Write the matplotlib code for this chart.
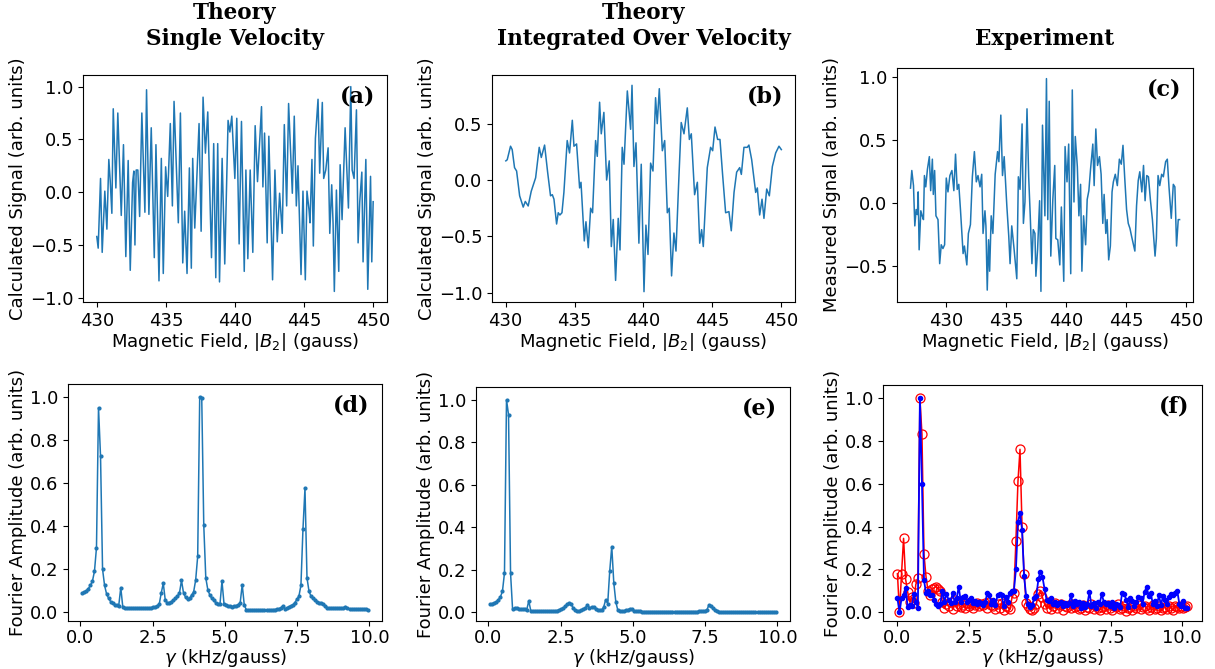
import numpy as np
import matplotlib
matplotlib.use("Agg")
import matplotlib.pyplot as plt

# ---- (a) theory, single velocity: field (gauss) vs signal
field_a = [430.00, 430.10, 430.27, 430.39, 430.58, 430.73, 430.87, 430.97, 431.09, 431.19,
           431.38, 431.52, 431.77, 431.93, 432.10, 432.27, 432.42, 432.59, 432.68, 432.76,
           432.85, 432.97, 433.10, 433.26, 433.48, 433.60, 433.77, 433.94, 434.16, 434.28,
           434.50, 434.67, 434.81, 434.98, 435.13, 435.32, 435.47, 435.59, 435.90, 436.05,
           436.22, 436.36, 436.53, 436.70, 436.84, 436.94, 437.09, 437.40, 437.55, 437.69,
           437.86, 438.03, 438.30, 438.46, 438.61, 438.75, 438.88, 439.07, 439.26, 439.50,
           439.63, 439.77, 439.99, 440.13, 440.30, 440.47, 440.67, 440.79, 440.93, 441.10,
           441.29, 441.46, 441.63, 441.92, 442.02, 442.14, 442.33, 442.45, 442.72, 442.89,
           443.06, 443.23, 443.42, 443.57, 443.74, 443.88, 444.15, 444.29, 444.44, 444.56,
           444.78, 444.92, 445.09, 445.21, 445.36, 445.43, 445.57, 445.67, 445.82, 446.01,
           446.13, 446.32, 446.42, 446.57, 446.74, 446.86, 447.00, 447.10, 447.19, 447.34,
           447.51, 447.61, 447.75, 447.97, 448.21, 448.38, 448.48, 448.62, 448.79, 448.91,
           449.03, 449.18, 449.27, 449.47, 449.61, 449.81, 449.90, 450.00]
signal_a = [-0.42, -0.53, 0.13, -0.57, 0.01, -0.35, 0.31, 0.11, -0.20, 0.79,
            0.04, 0.75, -0.22, 0.45, -0.61, 0.30, -0.74, 0.09, 0.20, -0.50,
            0.21, 0.21, -0.23, 0.75, -0.19, 0.97, -0.21, 0.61, -0.62, 0.45,
            -0.84, 0.32, -0.77, 0.24, -0.04, 0.65, -0.13, 0.86, -0.29, 0.75,
            -0.67, -0.18, -0.77, 0.23, -0.72, 0.32, -0.34, 0.65, -0.37, 0.90,
            0.37, 0.76, -0.62, 0.46, -0.81, 0.46, -0.85, 0.32, -0.68, 0.68,
            0.57, 0.72, 0.13, 0.70, -0.49, 0.67, -0.75, 0.21, -0.63, 0.21,
            -0.57, 0.63, 0.10, 0.81, 0.05, 0.56, -0.48, 0.53, -0.83, 0.21,
            -0.47, -0.01, -0.39, 0.64, -0.13, 0.84, -0.01, 0.72, -0.13, 0.25,
            -0.78, 0.01, -0.83, 0.01, -0.17, -0.29, 0.31, -0.51, 0.51, 0.88,
            0.18, 0.85, 0.13, 0.21, 0.42, -0.39, 0.07, -0.30, -0.94, 0.02,
            -0.75, 0.26, -0.26, 0.61, -0.15, 1.00, 0.21, 0.13, 0.78, -0.48,
            -0.09, 0.19, -0.66, 0.31, -0.92, 0.15, -0.66, -0.09]

# ---- (b) theory, integrated over velocity
field_b = [430.02, 430.12, 430.36, 430.48, 430.65, 430.80, 431.02, 431.28, 431.43, 431.64,
           431.86, 432.18, 432.44, 432.59, 432.83, 433.05, 433.26, 433.39, 433.51, 433.70,
           433.82, 433.94, 434.09, 434.23, 434.47, 434.64, 434.84, 434.96, 435.15, 435.37,
           435.47, 435.71, 435.83, 436.00, 436.17, 436.31, 436.53, 436.65, 436.82, 436.94,
           437.13, 437.33, 437.52, 437.67, 437.81, 437.98, 438.17, 438.30, 438.46, 438.59,
           438.83, 439.07, 439.17, 439.31, 439.46, 439.67, 439.84, 440.04, 440.18, 440.33,
           440.52, 440.69, 440.88, 441.00, 441.15, 441.37, 441.54, 441.73, 441.87, 442.04,
           442.21, 442.36, 442.55, 442.74, 442.94, 443.18, 443.33, 443.47, 443.71, 443.91,
           444.08, 444.22, 444.34, 444.63, 444.87, 445.02, 445.19, 445.38, 445.55, 445.74,
           445.96, 446.20, 446.37, 446.57, 446.76, 446.98, 447.10, 447.29, 447.53, 447.65,
           447.85, 448.14, 448.26, 448.43, 448.60, 448.74, 448.94, 449.13, 449.35, 449.59,
           449.83, 450.00]
signal_b = [0.17, 0.18, 0.30, 0.27, 0.11, 0.08, -0.14, -0.24, -0.19, -0.23,
            -0.10, 0.02, 0.29, 0.20, 0.31, 0.07, -0.14, -0.13, -0.17, -0.39,
            -0.29, -0.31, -0.29, -0.11, 0.35, 0.24, 0.53, 0.30, 0.32, -0.07,
            -0.02, -0.54, -0.37, -0.60, -0.25, -0.29, 0.35, 0.21, 0.69, 0.41,
            0.60, 0.00, 0.17, -0.59, -0.35, -0.89, -0.34, -0.62, 0.29, 0.14,
            0.79, 0.45, 0.84, 0.12, 0.33, -0.56, 0.14, -0.99, -0.40, -0.66,
            0.15, 0.08, 0.73, 0.50, 0.81, 0.26, 0.35, -0.29, -0.25, -0.85,
            -0.47, -0.63, -0.04, 0.51, 0.41, 0.64, 0.36, 0.41, -0.13, -0.02,
            -0.56, -0.44, -0.59, 0.11, 0.29, 0.26, 0.47, 0.36, 0.36, 0.05,
            -0.29, -0.28, -0.45, -0.11, 0.07, 0.11, 0.05, 0.29, 0.29, 0.31,
            0.18, -0.11, -0.07, -0.31, -0.17, -0.34, -0.08, -0.14, 0.12, 0.24,
            0.30, 0.27]

# ---- (c) experiment
field_c = [427.05, 427.16, 427.30, 427.41, 427.52, 427.63, 427.69, 427.77, 427.91, 428.02,
           428.13, 428.21, 428.32, 428.46, 428.62, 428.73, 428.87, 428.95, 429.06, 429.17,
           429.34, 429.48, 429.61, 429.75, 429.89, 430.03, 430.17, 430.33, 430.50, 430.66,
           430.80, 430.94, 431.07, 431.21, 431.43, 431.54, 431.74, 431.87, 432.04, 432.20,
           432.37, 432.53, 432.67, 432.84, 432.98, 433.09, 433.25, 433.33, 433.44, 433.55,
           433.64, 433.77, 433.91, 434.10, 434.30, 434.41, 434.57, 434.71, 434.85, 435.07,
           435.23, 435.34, 435.48, 435.67, 435.90, 436.03, 436.17, 436.34, 436.45, 436.58,
           436.75, 436.89, 437.02, 437.16, 437.27, 437.41, 437.49, 437.63, 437.80, 437.91,
           438.04, 438.24, 438.37, 438.48, 438.60, 438.73, 438.90, 439.06, 439.15, 439.31,
           439.48, 439.61, 439.81, 439.92, 440.08, 440.22, 440.39, 440.52, 440.66, 440.77,
           440.94, 441.07, 441.21, 441.32, 441.46, 441.63, 441.76, 441.90, 442.04, 442.23,
           442.34, 442.48, 442.62, 442.78, 442.92, 443.06, 443.17, 443.31, 443.42, 443.55,
           443.69, 443.83, 443.94, 444.10, 444.27, 444.44, 444.60, 444.74, 444.88, 445.04,
           445.18, 445.32, 445.45, 445.59, 445.73, 445.87, 446.01, 446.14, 446.31, 446.45,
           446.58, 446.72, 446.86, 447.02, 447.19, 447.41, 447.52, 447.66, 447.80, 447.96,
           448.10, 448.29, 448.43, 448.57, 448.76, 448.93, 449.06, 449.20, 449.34, 449.45]
signal_c = [0.12, 0.26, 0.14, -0.18, -0.05, -0.09, 0.09, -0.37, -0.06, -0.10,
            -0.13, 0.22, 0.13, 0.27, 0.37, 0.10, 0.35, 0.07, 0.26, -0.10,
            -0.13, -0.48, -0.33, -0.36, -0.33, 0.20, 0.09, 0.22, 0.26, 0.10,
            0.39, 0.11, 0.15, -0.05, -0.40, -0.34, -0.49, -0.24, -0.17, 0.21,
            0.41, 0.17, 0.22, 0.13, 0.23, -0.24, -0.06, -0.18, -0.69, -0.29,
            -0.54, -0.10, -0.24, 0.23, 0.41, 0.33, 0.70, 0.22, 0.37, -0.02,
            -0.26, -0.48, -0.18, -0.36, -0.60, 0.21, 0.11, 0.63, -0.16, 0.01,
            0.75, 0.21, -0.10, -0.48, -0.21, -0.24, -0.58, -0.37, 0.02, -0.70,
            0.62, -0.10, 0.99, -0.13, 0.81, -0.42, 0.03, 0.30, -0.28, -0.29,
            -0.49, -0.03, -0.62, 0.45, 0.17, 0.47, -0.56, 0.90, 0.01, 0.53,
            0.29, -0.10, 0.15, -0.54, -0.10, -0.33, 0.03, 0.10, 0.27, 0.47,
            0.14, 0.59, 0.30, 0.37, 0.23, -0.16, 0.07, -0.24, -0.13, -0.45,
            -0.34, 0.09, 0.17, 0.23, 0.14, 0.35, 0.31, 0.46, 0.21, -0.05,
            -0.16, -0.20, -0.26, -0.32, -0.38, -0.02, 0.18, 0.25, 0.09, 0.30,
            0.02, 0.22, 0.21, 0.03, -0.13, -0.42, -0.28, 0.22, 0.14, 0.23,
            0.21, 0.33, 0.35, 0.13, -0.12, 0.15, 0.13, -0.34, -0.13, -0.13]

# ---- (d), (e) Fourier spectra of theory, gamma in kHz/gauss (step 0.07)
gamma_th = np.arange(1, 143) * 0.07
fourier_d = [0.09, 0.095, 0.10, 0.11, 0.125, 0.145, 0.19, 0.30, 0.95, 0.725,
             0.20, 0.125, 0.085, 0.065, 0.05, 0.042, 0.036, 0.033, 0.031, 0.115,
             0.025, 0.021, 0.02, 0.019, 0.018, 0.018, 0.018, 0.018, 0.018, 0.019,
             0.019, 0.02, 0.02, 0.021, 0.022, 0.024, 0.026, 0.03, 0.038, 0.09,
             0.135, 0.055, 0.045, 0.045, 0.05, 0.055, 0.065, 0.075, 0.09, 0.148,
             0.09, 0.07, 0.06, 0.065, 0.08, 0.095, 0.15, 0.26, 1.0, 0.995,
             0.405, 0.16, 0.105, 0.08, 0.065, 0.055, 0.045, 0.04, 0.037, 0.145,
             0.04, 0.035, 0.03, 0.028, 0.027, 0.028, 0.03, 0.035, 0.045, 0.128,
             0.035, 0.012, 0.01, 0.01, 0.009, 0.009, 0.009, 0.009, 0.009, 0.01,
             0.01, 0.01, 0.011, 0.011, 0.012, 0.013, 0.014, 0.016, 0.02, 0.03,
             0.015, 0.02, 0.025, 0.03, 0.035, 0.045, 0.06, 0.075, 0.125, 0.385,
             0.575, 0.16, 0.097, 0.075, 0.065, 0.058, 0.05, 0.045, 0.042, 0.04,
             0.03, 0.022, 0.02, 0.02, 0.02, 0.02, 0.02, 0.02, 0.02, 0.02,
             0.027, 0.018, 0.017, 0.016, 0.016, 0.015, 0.015, 0.015, 0.015, 0.014,
             0.016, 0.012]
fourier_e = [0.04, 0.042, 0.045, 0.05, 0.06, 0.073, 0.10, 0.185, 1.0, 0.93,
             0.185, 0.015, 0.02, 0.02, 0.018, 0.017, 0.016, 0.018, 0.012, 0.055,
             0.008, 0.007, 0.006, 0.005, 0.005, 0.005, 0.005, 0.005, 0.005, 0.006,
             0.006, 0.007, 0.008, 0.009, 0.012, 0.016, 0.02, 0.028, 0.04, 0.043,
             0.038, 0.02, 0.01, 0.008, 0.008, 0.01, 0.015, 0.022, 0.035, 0.022,
             0.025, 0.025, 0.018, 0.012, 0.01, 0.012, 0.025, 0.06, 0.042, 0.195,
             0.31, 0.14, 0.05, 0.01, 0.008, 0.008, 0.008, 0.01, 0.012, 0.018,
             0.015, 0.008, 0.006, 0.005, 0.005, 0.004, 0.004, 0.004, 0.004, 0.004,
             0.004, 0.004, 0.004, 0.004, 0.004, 0.004, 0.004, 0.004, 0.004, 0.004,
             0.004, 0.004, 0.004, 0.004, 0.004, 0.004, 0.004, 0.004, 0.004, 0.004,
             0.004, 0.004, 0.004, 0.005, 0.005, 0.006, 0.008, 0.012, 0.035, 0.03,
             0.02, 0.01, 0.006, 0.004, 0.003, 0.003, 0.003, 0.003, 0.003, 0.003,
             0.003, 0.003, 0.003, 0.003, 0.003, 0.003, 0.003, 0.003, 0.003, 0.003,
             0.003, 0.003, 0.003, 0.003, 0.003, 0.003, 0.003, 0.003, 0.003, 0.003,
             0.003, 0.003]

# ---- (f) Fourier spectra of experiment, 143 points from 0 to 10.2
gamma_ex = np.linspace(0, 10.2, 143)
fourier_red = [0.18, 0.0, 0.18, 0.345, 0.155, 0.095, 0.05, 0.07, 0.045, 0.13,
               0.16, 1.0, 0.83, 0.27, 0.165, 0.10, 0.08, 0.11, 0.115, 0.12,
               0.11, 0.10, 0.05, 0.02, 0.04, 0.03, 0.05, 0.015, 0.06, 0.03,
               0.04, 0.025, 0.035, 0.02, 0.045, 0.03, 0.04, 0.02, 0.035, 0.045,
               0.03, 0.04, 0.035, 0.045, 0.02, 0.05, 0.035, 0.03, 0.015, 0.04,
               0.02, 0.045, 0.01, 0.03, 0.025, 0.015, 0.065, 0.09, 0.335, 0.61,
               0.76, 0.40, 0.18, 0.045, 0.03, 0.015, 0.01, 0.02, 0.04, 0.085,
               0.10, 0.07, 0.04, 0.02, 0.05, 0.015, 0.03, 0.045, 0.02, 0.035,
               0.04, 0.01, 0.03, 0.025, 0.035, 0.02, 0.04, 0.025, 0.03, 0.015,
               0.02, 0.035, 0.01, 0.025, 0.02, 0.04, 0.015, 0.03, 0.02, 0.01,
               0.025, 0.03, 0.015, 0.035, 0.02, 0.01, 0.03, 0.025, 0.04, 0.015,
               0.02, 0.03, 0.005, 0.02, 0.025, 0.01, 0.03, 0.02, 0.035, 0.015,
               0.025, 0.03, 0.02, 0.01, 0.025, 0.035, 0.015, 0.02, 0.03, 0.01,
               0.02, 0.025, 0.015, 0.03, 0.02, 0.01, 0.03, 0.025, 0.02, 0.03,
               0.02, 0.025, 0.028]
fourier_blue = [0.065, 0.0, 0.065, 0.08, 0.115, 0.025, 0.035, 0.03, 0.085, 0.05,
                0.02, 1.0, 0.60, 0.15, 0.09, 0.10, 0.08, 0.08, 0.06, 0.04,
                0.03, 0.04, 0.10, 0.05, 0.085, 0.06, 0.045, 0.09, 0.05, 0.065,
                0.12, 0.05, 0.07, 0.075, 0.05, 0.06, 0.065, 0.045, 0.055, 0.04,
                0.05, 0.045, 0.035, 0.05, 0.09, 0.08, 0.04, 0.06, 0.035, 0.08,
                0.085, 0.08, 0.03, 0.07, 0.05, 0.09, 0.10, 0.10, 0.20, 0.42,
                0.465, 0.385, 0.17, 0.075, 0.04, 0.025, 0.035, 0.065, 0.075, 0.155,
                0.19, 0.165, 0.11, 0.06, 0.055, 0.065, 0.04, 0.05, 0.035, 0.045,
                0.05, 0.03, 0.045, 0.035, 0.045, 0.08, 0.03, 0.055, 0.04, 0.05,
                0.02, 0.045, 0.025, 0.04, 0.095, 0.03, 0.045, 0.02, 0.05, 0.04,
                0.085, 0.05, 0.04, 0.045, 0.03, 0.05, 0.02, 0.04, 0.035, 0.025,
                0.09, 0.085, 0.06, 0.025, 0.065, 0.055, 0.03, 0.05, 0.07, 0.065,
                0.04, 0.095, 0.12, 0.075, 0.09, 0.04, 0.055, 0.03, 0.08, 0.035,
                0.075, 0.06, 0.04, 0.07, 0.085, 0.08, 0.09, 0.10, 0.04, 0.03,
                0.055, 0.02, 0.02]

col_titles = ["Theory\nSingle Velocity", "Theory\nIntegrated Over Velocity", "Experiment"]

plt.rcParams['font.size'] = 13
fig = plt.figure(figsize=(12.15, 6.69), dpi=100)

# axes boxes in figure fractions
ax_a = fig.add_axes([0.0683, 0.5486, 0.2502, 0.3393])
ax_b = fig.add_axes([0.4050, 0.5486, 0.2494, 0.3393])
ax_c = fig.add_axes([0.7383, 0.5486, 0.2436, 0.3498])
ax_d = fig.add_axes([0.0560, 0.0718, 0.2584, 0.3543])
ax_e = fig.add_axes([0.3918, 0.0718, 0.2584, 0.3498])
ax_f = fig.add_axes([0.7267, 0.0718, 0.2626, 0.3528])

blue = '#1f77b4'
ax_a.plot(field_a, signal_a, color=blue, lw=1.1)
ax_a.set_ylim(-1.04, 1.11)
ax_a.set_ylabel('Calculated Signal (arb. units)', labelpad=2)

ax_b.plot(field_b, signal_b, color=blue, lw=1.1)
ax_b.set_ylabel('Calculated Signal (arb. units)', labelpad=2)

ax_c.plot(field_c, signal_c, color=blue, lw=1.1)
ax_c.set_ylabel('Measured Signal (arb. units)', labelpad=2)

for ax in (ax_a, ax_b, ax_c):
    ax.set_xlabel(r'Magnetic Field, $|B_2|$ (gauss)', labelpad=1)
    ax.set_xticks([430, 435, 440, 445, 450])

ax_d.plot(gamma_th, fourier_d, '.-', color=blue, lw=1.1, ms=4)
ax_e.plot(gamma_th, fourier_e, '.-', color=blue, lw=1.1, ms=4)
ax_f.plot(gamma_ex, fourier_red, 'o-', color='red', mfc='none', lw=1.1, ms=6.5, mew=0.9)
ax_f.plot(gamma_ex, fourier_blue, '.-', color='blue', lw=1.3, ms=6)

for ax in (ax_d, ax_e, ax_f):
    ax.set_xlabel(r'$\gamma$ (kHz/gauss)', labelpad=0)
    ax.tick_params(axis='x', pad=2.5)
    ax.set_ylabel('Fourier Amplitude (arb. units)', labelpad=2)
    ax.set_ylim(-0.04, 1.06)
    ax.set_xticks([0, 2.5, 5, 7.5, 10])

for ax, lab in zip((ax_a, ax_b, ax_c, ax_d, ax_e, ax_f), 'abcdef'):
    ax.text(0.96, 0.955, '(%s)' % lab, transform=ax.transAxes, ha='right', va='top',
            family='DejaVu Serif', weight='bold', fontsize=16)

for x, t in zip([0.1934, 0.5296, 0.860], col_titles):
    fig.text(x, 0.926, t, ha='center', va='bottom', family='DejaVu Serif',
             weight='bold', fontsize=15.5, linespacing=1.2)

fig.savefig('out.png', dpi=100)
